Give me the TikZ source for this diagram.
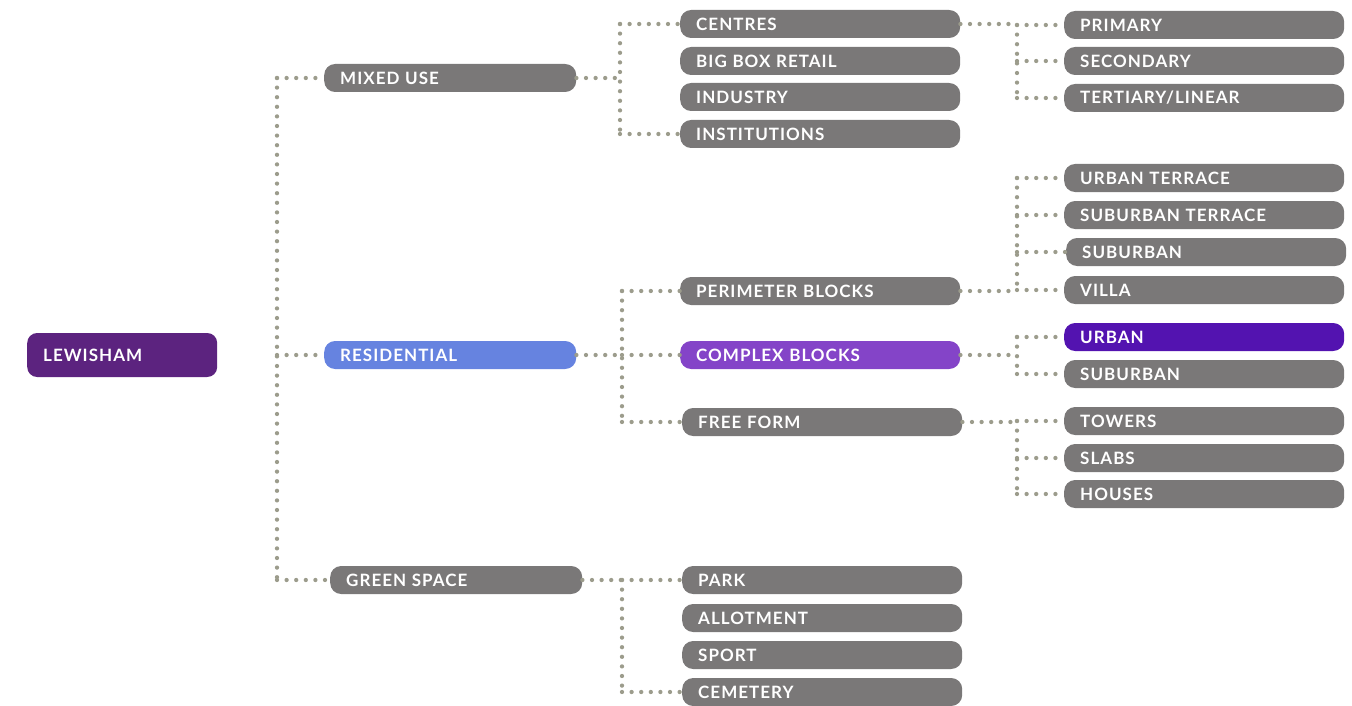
\documentclass[tikz,border=0pt]{standalone}
\usepackage{fontspec}
\setmainfont{Lato}[LetterSpace=6]
\usepackage{tikz}
\usetikzlibrary{positioning}

\definecolor{gris}{HTML}{7A7878}
\definecolor{raiz}{HTML}{5C237F}
\definecolor{azul}{HTML}{6683E0}
\definecolor{violeta}{HTML}{8444C8}
\definecolor{morado}{HTML}{5313B0}
\definecolor{punto}{HTML}{9C9C8C}

\begin{document}
\begin{tikzpicture}[x=1pt, y=-1pt,
  caja/.style={rectangle, rounded corners=11pt, fill=gris, text=white,
    font=\bfseries\fontsize{17}{17}\selectfont, minimum height=28pt,
    text width=248pt, inner xsep=16pt, inner ysep=0pt, align=left, anchor=west},
  enlace/.style={draw=punto, line width=4.3pt, line cap=round, dash pattern=on 0pt off 9.6pt}]
              \useasboundingbox (0,0) rectangle (1352,706);
              % Nodos
              \node[caja, text width=158pt, minimum height=44pt, rounded corners=10pt, fill=raiz] (lew) at (27,355) {LEWISHAM};
              \node[caja, text width=220pt] (mix) at (324,78) {MIXED USE};
              \node[caja, text width=220pt, fill=azul] (res) at (324,355) {RESIDENTIAL};
              \node[caja, text width=220pt] (gre) at (330,580) {GREEN SPACE};

              \node[caja] (cen) at (680,24) {CENTRES};
              \node[caja] (big) at (680,61) {BIG BOX RETAIL};
              \node[caja] (ind) at (680,97) {INDUSTRY};
              \node[caja] (ins) at (680,134) {INSTITUTIONS};
              \node[caja] (per) at (680,291) {PERIMETER BLOCKS};
              \node[caja, fill=violeta] (com) at (680,355) {COMPLEX BLOCKS};
              \node[caja] (fre) at (682,422) {FREE FORM};
              \node[caja] (par) at (682,580) {PARK};
              \node[caja] (all) at (682,618) {ALLOTMENT};
              \node[caja] (spo) at (682,655) {SPORT};
              \node[caja] (cem) at (682,692) {CEMETERY};

              \node[caja] (pri) at (1064,25) {PRIMARY};
              \node[caja] (sec) at (1064,61) {SECONDARY};
              \node[caja] (ter) at (1064,98) {TERTIARY/LINEAR};
              \node[caja] (ute) at (1064,178) {URBAN TERRACE};
              \node[caja] (ste) at (1064,215) {SUBURBAN TERRACE};
              \node[caja] (sub) at (1066,252) {SUBURBAN};
              \node[caja] (vil) at (1064,290) {VILLA};
              \node[caja, fill=morado] (urb) at (1064,337) {URBAN};
              \node[caja] (sbc) at (1064,374) {SUBURBAN};
              \node[caja] (tow) at (1064,421) {TOWERS};
              \node[caja] (sla) at (1064,458) {SLABS};
              \node[caja] (hou) at (1064,494) {HOUSES};

              % Troncos
              \coordinate (t0) at (277,0);
              \coordinate (t1) at (620,0);
              \coordinate (t2) at (622,0);
              \coordinate (t3) at (1017,0);

              % Aristas
              \draw[enlace] (t0 |- mix.west) -- (t0 |- gre.west);
              \draw[enlace] (t0 |- mix.west) -- (mix.west);
              \draw[enlace] (t0 |- res.west) -- (res.west);
              \draw[enlace] (t0 |- gre.west) -- (gre.west);

              \draw[enlace] (mix.east) -- (t1 |- mix.east);
              \draw[enlace] (t1 |- cen.west) -- (t1 |- ins.west);
              \draw[enlace] (t1 |- cen.west) -- (cen.west);
              \draw[enlace] (t1 |- ins.west) -- (ins.west);

              \draw[enlace] (cen.east) -- (t3 |- cen.east);
              \draw[enlace] (t3 |- pri.west) -- (t3 |- ter.west);
              \draw[enlace] (t3 |- pri.west) -- (pri.west);
              \draw[enlace] (t3 |- sec.west) -- (sec.west);
              \draw[enlace] (t3 |- ter.west) -- (ter.west);

              \draw[enlace] (res.east) -- (t2 |- res.east);
              \draw[enlace] (t2 |- per.west) -- (t2 |- fre.west);
              \draw[enlace] (t2 |- per.west) -- (per.west);
              \draw[enlace] (t2 |- com.west) -- (com.west);
              \draw[enlace] (t2 |- fre.west) -- (fre.west);

              \draw[enlace] (per.east) -- (t3 |- per.east);
              \draw[enlace] (t3 |- ute.west) -- (t3 |- vil.west);
              \draw[enlace] (t3 |- ute.west) -- (ute.west);
              \draw[enlace] (t3 |- ste.west) -- (ste.west);
              \draw[enlace] (t3 |- sub.west) -- (sub.west);
              \draw[enlace] (t3 |- vil.west) -- (vil.west);

              \draw[enlace] (com.east) -- (t3 |- com.east);
              \draw[enlace] (t3 |- urb.west) -- (t3 |- sbc.west);
              \draw[enlace] (t3 |- urb.west) -- (urb.west);
              \draw[enlace] (t3 |- sbc.west) -- (sbc.west);

              \draw[enlace] (fre.east) -- (t3 |- fre.east);
              \draw[enlace] (t3 |- tow.west) -- (t3 |- hou.west);
              \draw[enlace] (t3 |- tow.west) -- (tow.west);
              \draw[enlace] (t3 |- sla.west) -- (sla.west);
              \draw[enlace] (t3 |- hou.west) -- (hou.west);

              \draw[enlace] (gre.east) -- (t2 |- gre.east);
              \draw[enlace] (t2 |- par.west) -- (t2 |- cem.west);
              \draw[enlace] (t2 |- par.west) -- (par.west);
              \draw[enlace] (t2 |- cem.west) -- (cem.west);
\end{tikzpicture}
\end{document}
